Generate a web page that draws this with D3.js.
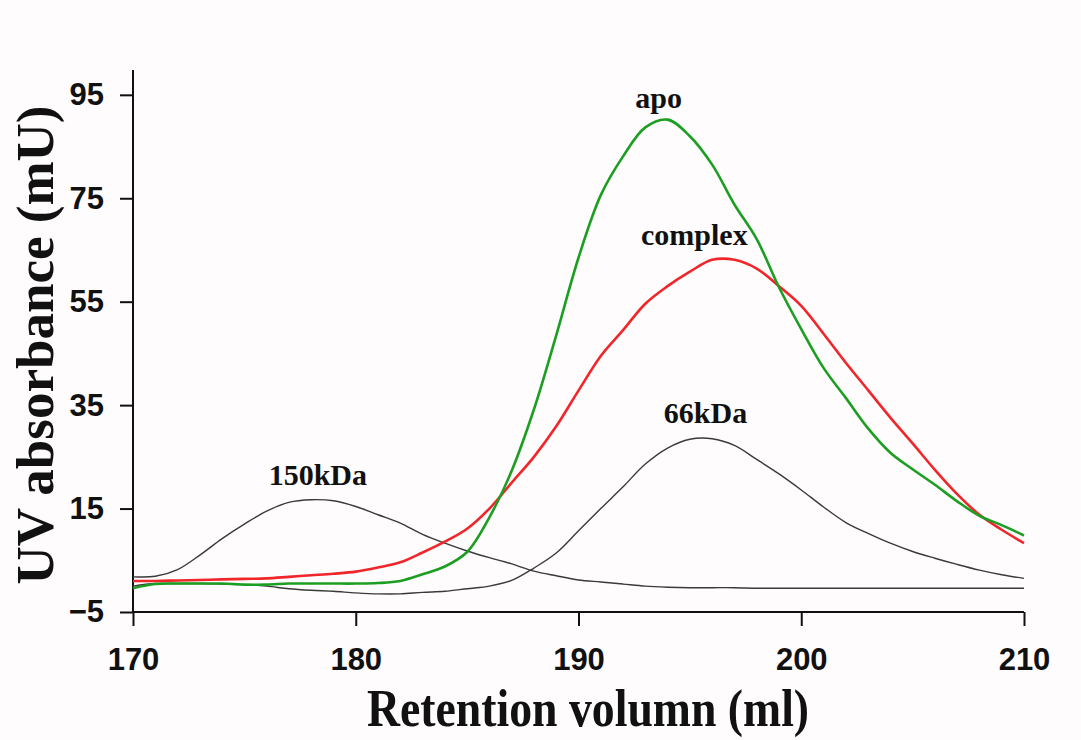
<!DOCTYPE html>
<html>
<head>
<meta charset="utf-8">
<script src="https://cdn.jsdelivr.net/npm/d3@7"></script>
<style>
  body { margin: 0; background: #fefcfc; }
  svg { display: block; }
</style>
</head>
<body>
<div id="chart-area"></div>
<script>
// retention volume (ml), one reading per ml
var volume = d3.range(170, 211);

var apo = [-0.4, 0.4, 0.5, 0.5, 0.5, 0.3, 0.3, 0.5, 0.5, 0.5,
           0.5, 0.6, 1.0, 2.3, 3.8, 6.6, 13.3, 22.3, 34.2, 48.5,
           63.5, 75.6, 83.1, 88.7, 90.2, 87.0, 81.5, 73.8, 67.1, 57.8,
           49.7, 42.2, 36.4, 30.5, 25.8, 22.6, 19.6, 16.4, 13.6, 11.8, 9.8];

var complex = [1.0, 1.0, 1.1, 1.2, 1.3, 1.4, 1.5, 1.8, 2.1, 2.4,
               2.8, 3.6, 4.6, 6.5, 8.6, 11.1, 15.0, 20.0, 25.0, 30.9,
               37.8, 44.5, 49.5, 54.6, 58.0, 60.8, 63.1, 63.1, 61.4, 58.0,
               54.2, 48.8, 43.2, 37.9, 32.6, 27.6, 22.5, 17.8, 13.8, 10.9, 8.3];

var kDa150 = [1.8, 1.9, 3.2, 6.0, 9.2, 12.0, 14.5, 16.2, 16.7, 16.5,
              15.4, 13.8, 12.2, 10.0, 8.3, 6.8, 5.5, 4.3, 2.9, 2.0,
              1.2, 0.8, 0.4, 0.0, -0.2, -0.3, -0.3, -0.3, -0.4, -0.4,
              -0.4, -0.4, -0.4, -0.4, -0.4, -0.4, -0.4, -0.4, -0.4, -0.4, -0.4];

var kDa66 = [0.0, 0.5, 0.5, 0.5, 0.4, 0.3, 0.0, -0.5, -0.8, -1.0,
             -1.3, -1.5, -1.5, -1.2, -1.0, -0.5, 0.0, 1.1, 3.5, 6.4,
             10.7, 15.0, 19.2, 23.6, 26.7, 28.4, 28.5, 27.2, 24.5, 21.7,
             18.6, 15.3, 12.3, 10.2, 8.3, 6.7, 5.4, 4.2, 3.1, 2.2, 1.5];

var xTicks = [170, 180, 190, 200, 210];
var yTicks = [-5, 15, 35, 55, 75, 95];

var series = [
  {name: "150kDa", values: kDa150, color: "#3a3a3a", width: 1.4},
  {name: "66kDa", values: kDa66, color: "#3a3a3a", width: 1.4},
  {name: "complex", values: complex, color: "#f0262a", width: 2.6},
  {name: "apo", values: apo, color: "#1c9e22", width: 2.6}
];

// peak labels: name, x (ml), y (mU) of the text baseline
var peakLabels = [
  {text: "apo", x: 193.6, y: 92.5},
  {text: "complex", x: 195.2, y: 66},
  {text: "66kDa", x: 195.7, y: 31.5},
  {text: "150kDa", x: 178.3, y: 19.6}
];

var W = 1081, H = 740;
var margin = {left: 133, right: 57, top: 70, bottom: 128};
var width = W - margin.left - margin.right;
var height = H - margin.top - margin.bottom;

var svg = d3.select("#chart-area").append("svg")
    .attr("width", W)
    .attr("height", H);

var g = svg.append("g")
    .attr("transform", "translate(" + margin.left + "," + margin.top + ")");

var x = d3.scaleLinear().domain([170, 210]).range([0, width]);
var y = d3.scaleLinear().domain([-5, 95]).range([height, height - (height) * 100 / 104.8]);

// axes
var xAxis = g.append("g")
    .attr("transform", "translate(0," + height + ")")
    .call(d3.axisBottom(x).tickValues(xTicks).tickSize(14).tickPadding(22).tickFormat(d3.format("d")));

var yAxis = g.append("g")
    .call(d3.axisLeft(y).tickValues(yTicks).tickSize(13).tickPadding(16).tickFormat(d3.format("d")));

[xAxis, yAxis].forEach(function(a) {
  a.select(".domain").remove();
  a.selectAll("line").attr("stroke", "#111").attr("stroke-width", 2);
  a.selectAll("text")
    .attr("fill", "#111")
    .style("font-family", "'Liberation Sans', Arial, sans-serif")
    .style("font-weight", "bold")
    .style("font-size", "31px");
});

g.append("line")
    .attr("x1", 0).attr("x2", 0)
    .attr("y1", 0).attr("y2", height)
    .attr("stroke", "#111").attr("stroke-width", 2);
g.append("line")
    .attr("x1", 0).attr("x2", width)
    .attr("y1", height).attr("y2", height)
    .attr("stroke", "#111").attr("stroke-width", 2);

// traces
var line = d3.line()
    .x(function(d, i) { return x(volume[i]); })
    .y(function(d) { return y(d); })
    .curve(d3.curveCatmullRom.alpha(0.5));

g.selectAll(".trace")
    .data(series)
    .enter()
    .append("path")
    .attr("class", "trace")
    .attr("fill", "none")
    .attr("stroke", function(d) { return d.color; })
    .attr("stroke-width", function(d) { return d.width; })
    .attr("stroke-linejoin", "round")
    .attr("d", function(d) { return line(d.values); });

g.selectAll(".peak-label")
    .data(peakLabels)
    .enter()
    .append("text")
    .attr("class", "peak-label")
    .attr("x", function(d) { return x(d.x); })
    .attr("y", function(d) { return y(d.y); })
    .attr("text-anchor", "middle")
    .style("font-family", "'Liberation Serif', 'Times New Roman', serif")
    .style("font-weight", "bold")
    .style("font-size", "30px")
    .attr("fill", "#111")
    .text(function(d) { return d.text; });

// axis titles (the source glyphs are a little condensed)
svg.append("text")
    .attr("transform", "translate(588,726) scale(0.88,1)")
    .attr("text-anchor", "middle")
    .style("font-family", "'Liberation Serif', 'Times New Roman', serif")
    .style("font-weight", "bold")
    .style("font-size", "52px")
    .attr("fill", "#111")
    .text("Retention volumn (ml)");

svg.append("text")
    .attr("transform", "translate(53,345) rotate(-90)")
    .attr("text-anchor", "middle")
    .style("font-family", "'Liberation Serif', 'Times New Roman', serif")
    .style("font-weight", "bold")
    .style("font-size", "53px")
    .attr("fill", "#111")
    .text("UV absorbance (mU)");
</script>
</body>
</html>
